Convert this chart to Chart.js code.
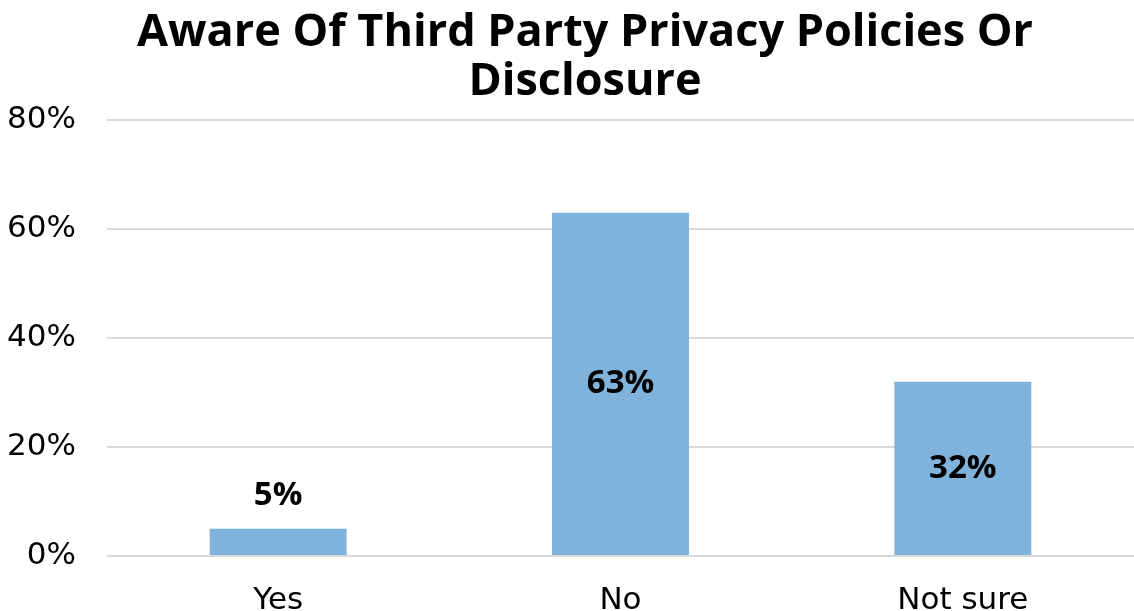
<!DOCTYPE html>
<html>
<head>
<meta charset="utf-8">
<script src="https://cdn.jsdelivr.net/npm/chart.js@4"></script>
<style>
  html, body { margin: 0; padding: 0; background: #fff; }
  #wrap { width: 1134px; height: 611px; }
</style>
</head>
<body>
<div id="wrap"><canvas id="myChart"></canvas></div>
<script>
var categories = ['Yes', 'No', 'Not sure'];
var shares = [5, 63, 32];
var yTicks = [0, 20, 40, 60, 80];

var headFont = '"Open Sans", sans-serif';
var axisFont = '"DejaVu Sans", sans-serif';

// writes the percentage on each bar, above it when the bar is too short
var barLabels = {
    id: 'barLabels',
    afterDatasetsDraw: function (chart) {
        var ctx = chart.ctx;
        var meta = chart.getDatasetMeta(0);
        ctx.save();
        ctx.font = 'bold 33px ' + headFont;
        ctx.fillStyle = '#000';
        ctx.textAlign = 'center';
        ctx.textBaseline = 'middle';
        meta.data.forEach(function (bar, i) {
            var v = chart.data.datasets[0].data[i];
            var y = v < 10 ? bar.y - 33 : (bar.y + bar.base) / 2;
            ctx.fillText(v + '%', bar.x, y);
        });
        ctx.restore();
    }
};

// nudge the title block so it sits a bit right of the canvas centre
var titleShift = {
    id: 'titleShift',
    afterLayout: function (chart) {
        if (chart.titleBlock) {
            chart.titleBlock.left += 36;
        }
    }
};

var ctx = document.getElementById('myChart').getContext('2d');
var myChart = new Chart(ctx, {
    type: 'bar',
    data: {
        labels: categories,
        datasets: [{
            data: shares,
            backgroundColor: '#7fb3db',
            categoryPercentage: 0.4,
            barPercentage: 1
        }]
    },
    plugins: [barLabels, titleShift],
    options: {
        responsive: true,
        maintainAspectRatio: false,
        animation: false,
        layout: { padding: 0 },
        plugins: {
            legend: { display: false },
            tooltip: { enabled: false },
            title: {
                display: true,
                text: ['Aware Of Third Party Privacy Policies Or', 'Disclosure'],
                color: '#000',
                font: { family: headFont, size: 45, weight: 'bold', lineHeight: 1.09 },
                padding: { top: 9, bottom: 13 }
            }
        },
        scales: {
            x: {
                grid: { display: false },
                border: { display: false },
                ticks: {
                    color: '#000',
                    font: { family: axisFont, size: 31 },
                    padding: 18
                },
                afterFit: function (scale) { scale.height = 55; }
            },
            y: {
                min: 0,
                max: 80,
                afterBuildTicks: function (scale) {
                    scale.ticks = yTicks.map(function (v) { return { value: v }; });
                },
                grid: { color: '#d9d9d9', lineWidth: 2, drawTicks: false },
                border: { display: false },
                ticks: {
                    color: '#000',
                    font: { family: axisFont, size: 31 },
                    padding: 31,
                    callback: function (v) { return v + '%'; }
                },
                afterFit: function (scale) { scale.width = 107; }
            }
        }
    }
});
</script>
</body>
</html>
